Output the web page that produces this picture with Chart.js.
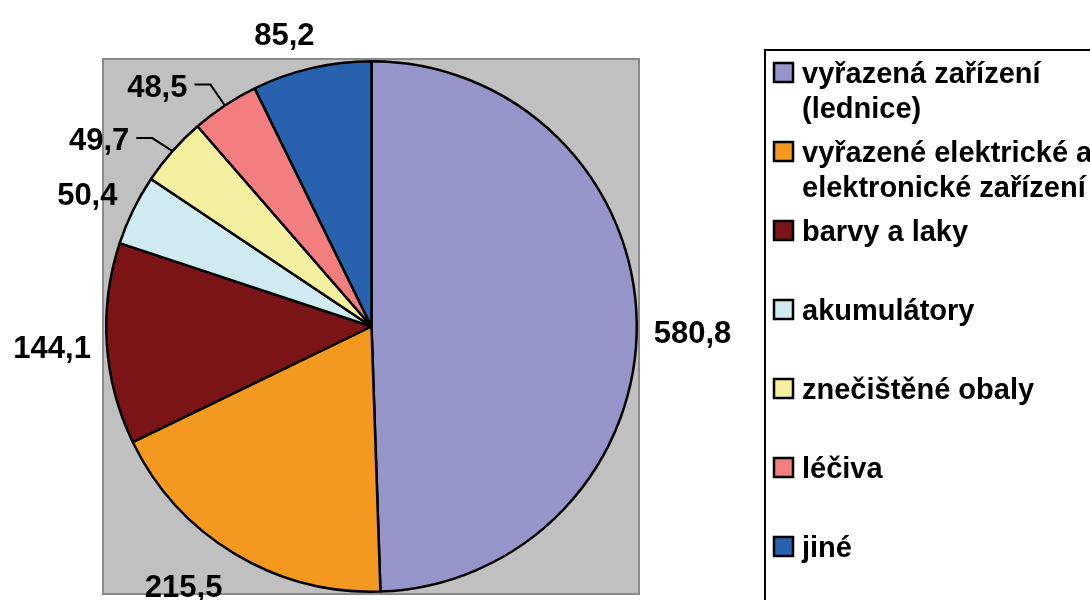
<!DOCTYPE html>
<html><head><meta charset="utf-8">
<script src="https://cdn.jsdelivr.net/npm/chart.js@4/dist/chart.umd.min.js"></script>
<style>html,body{margin:0;padding:0;background:#fff;}#wrap{width:1090px;height:600px;position:relative;}</style>
</head><body><div id="wrap"><canvas id="c"></canvas></div>
<script>
const categories = ["vyřazená zařízení (lednice)", "vyřazené elektrické a elektronické zařízení", "barvy a laky", "akumulátory", "znečištěné obaly", "léčiva", "jiné"];
const values = [580.8, 215.5, 144.1, 50.4, 49.7, 48.5, 85.2];
const colors = ["#9595C9", "#F4991F", "#7B1416", "#CFEBF0", "#F3F19F", "#F27E7F", "#2862AE"];

// label styling (not data)
const labelNudge = [[0,10.5],[-22,8.5],[1,1.5],[-3.5,-4],[-38,6.5],[-41.5,3.5],[-16.5,-7]];
const hasLeader = [false,false,false,false,true,true,false];
const FONT = '"Liberation Sans", Arial, sans-serif';

function fmt(v){ return v.toFixed(1).replace('.', ','); }

function wrap(ctx, text, maxW){
  const words = text.split(' '); const lines = []; let cur = '';
  for (const w of words){
    const t = cur ? cur + ' ' + w : w;
    if (ctx.measureText(t).width > maxW && cur){ lines.push(cur); cur = w; } else cur = t;
  }
  if (cur) lines.push(cur);
  return lines;
}

const deco = {
  id: 'deco',
  beforeDraw(chart){
    const ctx = chart.ctx, a = chart.chartArea;
    ctx.save();
    ctx.fillStyle = '#C0C0C0';
    ctx.fillRect(a.left - 2, a.top - 1, a.right - a.left + 3, a.bottom - a.top + 2);
    ctx.strokeStyle = '#8A8A8A'; ctx.lineWidth = 2;
    ctx.strokeRect(a.left - 2, a.top - 1, a.right - a.left + 3, a.bottom - a.top + 2);
    ctx.restore();
  },
  afterDraw(chart){
    const ctx = chart.ctx;
    const meta = chart.getDatasetMeta(0);
    ctx.save();
    ctx.font = 'bold 31px ' + FONT;
    ctx.fillStyle = '#000'; ctx.strokeStyle = '#000'; ctx.lineWidth = 2;
    meta.data.forEach((arc, i) => {
      const p = arc.getProps(['x','y','startAngle','endAngle','outerRadius'], true);
      const mid = (p.startAngle + p.endAngle) / 2;
      const dx = Math.cos(mid), dy = Math.sin(mid);
      const txt = fmt(values[i]);
      const w = ctx.measureText(txt).width, h = 22;
      const R = p.outerRadius + 17;
      const cx = p.x + R*dx + dx*w/2 + labelNudge[i][0];
      const cy = p.y + R*dy + dy*h/2 + labelNudge[i][1];
      ctx.textAlign = 'center'; ctx.textBaseline = 'alphabetic';
      ctx.fillText(txt, cx, cy + 11);
      if (hasLeader[i]){
        const ex = p.x + p.outerRadius*dx, ey = p.y + p.outerRadius*dy;
        const right = cx + w/2;
        ctx.beginPath();
        ctx.moveTo(right + 7, cy - 1); ctx.lineTo(right + 23, cy - 1); ctx.lineTo(ex, ey);
        ctx.stroke();
      }
    });
    // legend
    ctx.lineWidth = 2; ctx.strokeStyle = '#000';
    ctx.strokeRect(765, 50, 400, 600);
    ctx.font = 'bold 29px ' + FONT;
    ctx.textAlign = 'left'; ctx.textBaseline = 'alphabetic';
    categories.forEach((c, i) => {
      const base = 83 + 79*i;
      ctx.fillStyle = colors[i];
      ctx.fillRect(774, base - 20, 19, 19);
      ctx.lineWidth = 2.5;
      ctx.strokeRect(774, base - 20, 19, 19);
      ctx.fillStyle = '#000';
      wrap(ctx, c, 292).forEach((l, j) => ctx.fillText(l, 802, base + 35*j));
    });
    ctx.restore();
  }
};

new Chart(document.getElementById('c'), {
  type: 'pie',
  data: { labels: categories, datasets: [{ data: values, backgroundColor: colors, borderColor: '#000', borderWidth: 2.5 }] },
  options: {
    responsive: true, maintainAspectRatio: false, animation: false,
    layout: { padding: { left: 105, right: 452, top: 60, bottom: 7 } },
    plugins: { legend: { display: false }, tooltip: { enabled: false } }
  },
  plugins: [deco]
});
</script></body></html>
